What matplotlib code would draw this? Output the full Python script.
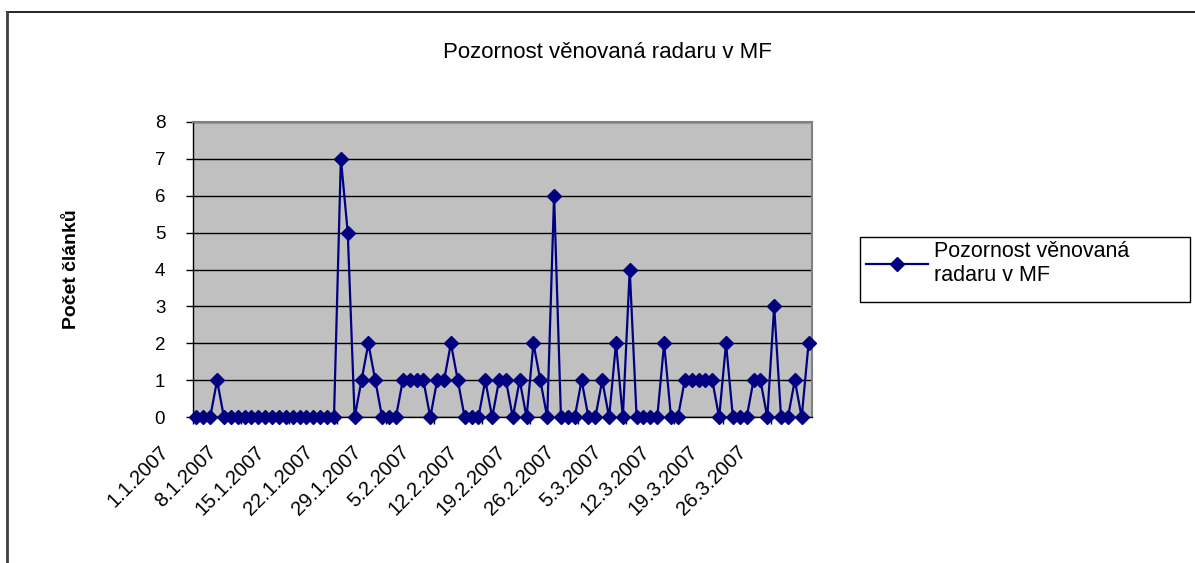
import matplotlib
matplotlib.use("Agg")
import matplotlib.pyplot as plt
from matplotlib.lines import Line2D
from matplotlib.patches import Rectangle
from matplotlib.transforms import ScaledTranslation
import numpy as np

plt.rcParams['font.family'] = ['Liberation Sans', 'DejaVu Sans']

# ---- data: daily article counts, 1.1.2007 - 31.3.2007 ----
counts = [
    0, 0, 0, 1, 0, 0, 0, 0, 0, 0,
    0, 0, 0, 0, 0, 0, 0, 0, 0, 0,
    0, 7, 5, 0, 1, 2, 1, 0, 0, 0,
    1, 1, 1, 1, 0, 1, 1, 2, 1, 0,
    0, 0, 1, 0, 1, 1, 0, 1, 0, 2,
    1, 0, 6, 0, 0, 0, 1, 0, 0, 1,
    0, 2, 0, 4, 0, 0, 0, 0, 2, 0,
    0, 1, 1, 1, 1, 1, 0, 2, 0, 0,
    0, 1, 1, 0, 3, 0, 0, 1, 0, 2,
]
tick_labels = ["1.1.2007", "8.1.2007", "15.1.2007", "22.1.2007", "29.1.2007",
               "5.2.2007", "12.2.2007", "19.2.2007", "26.2.2007", "5.3.2007",
               "12.3.2007", "19.3.2007", "26.3.2007"]
title = "Pozornost věnovaná radaru v MF"
series_name = "Pozornost věnovaná\nradaru v MF"
y_label = "Počet článků"

W, H = 1195, 563
fig = plt.figure(figsize=(W / 100, H / 100), dpi=100)
fig.patch.set_facecolor('white')

L, R, T, B = 193, 812, 121.7, 417.3
ax = fig.add_axes([L / W, 1 - B / H, (R - L) / W, (B - T) / H])
ax.set_facecolor('#C0C0C0')

n = len(counts)
x = np.arange(n) + 0.5
line, = ax.plot(x, counts, color='#000080', lw=1.6, marker='D', ms=7.5,
                mfc='#000080', mec='#000080', zorder=3, clip_on=False)

ax.set_xlim(0, n)
ax.set_ylim(0, 8)
ax.set_yticks(range(0, 9))
ax.yaxis.grid(True, color='black', lw=1)
ax.set_axisbelow(True)
ax.tick_params(axis='y', direction='out', length=5, width=1, labelsize=13.5, pad=15)

ticks = np.arange(0, n, 7)[:len(tick_labels)]
ax.set_xticks(ticks)
ax.set_xticklabels(tick_labels, rotation=45, ha='right', va='top',
                   rotation_mode='anchor', fontsize=14.5)
ax.tick_params(axis='x', direction='out', length=5, width=1, pad=2)
offset = ScaledTranslation(-34 / 100, -15 / 100, fig.dpi_scale_trans)
for lab in ax.get_xticklabels():
    lab.set_transform(lab.get_transform() + offset)

for side in ['top', 'right']:
    ax.spines[side].set_color('#808080')
    ax.spines[side].set_linewidth(1.5)
for side in ['left', 'bottom']:
    ax.spines[side].set_color('black')
    ax.spines[side].set_linewidth(1)

ax.set_ylabel(y_label, fontsize=14, fontweight='bold', labelpad=0)
ax.yaxis.set_label_coords((80 - L) / (R - L), 0.5)

fig.text(607 / W, 1 - 52 / H, title, ha='center', va='center', fontsize=16)

# legend box
fig.add_artist(Rectangle((860 / W, 1 - 302 / H), 330 / W, 65 / H,
                         transform=fig.transFigure, facecolor='white',
                         edgecolor='black', lw=1))
leg = fig.legend([line], [series_name], loc='upper left',
                 bbox_to_anchor=(866 / W, 1 - 241 / H), frameon=False,
                 fontsize=15.5, handlelength=2.9, handletextpad=0.25,
                 borderpad=0, borderaxespad=0, labelspacing=0.2)

# outer chart border
fig.add_artist(Line2D([7 / W, 1], [1 - 12 / H, 1 - 12 / H], color='black', lw=1.2,
                      transform=fig.transFigure))
fig.add_artist(Line2D([7 / W, 7 / W], [0, 1 - 12 / H], color='#404040', lw=2,
                      transform=fig.transFigure))

fig.savefig('out.png', dpi=100)
